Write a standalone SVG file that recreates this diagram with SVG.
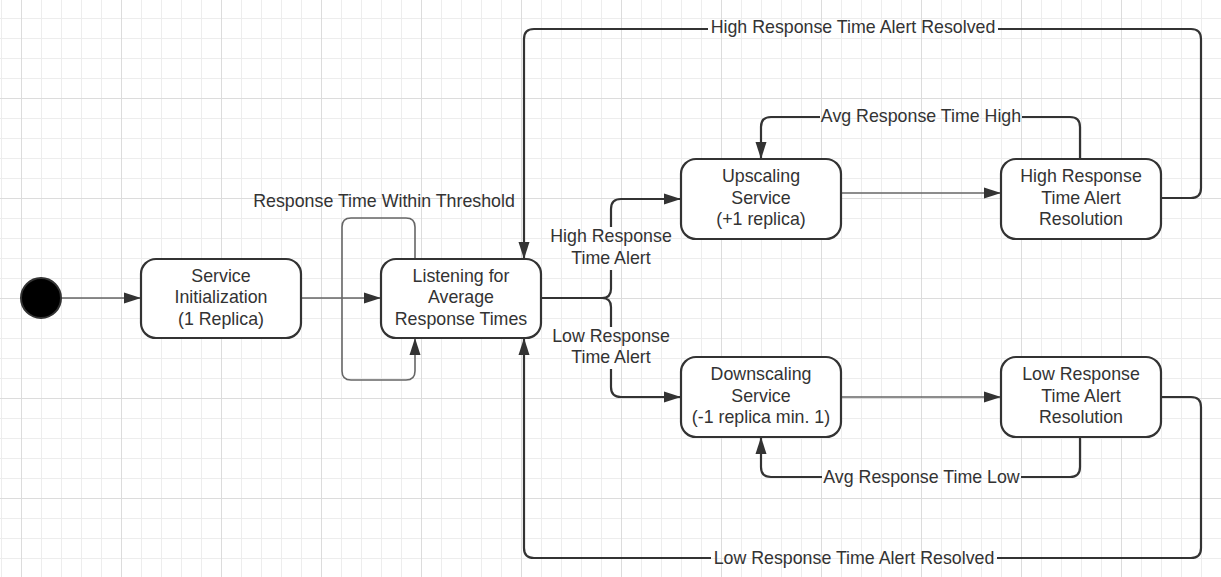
<svg xmlns="http://www.w3.org/2000/svg" width="1221" height="577" viewBox="0 0 1221 577">
<style>
.node rect{fill:#fff;stroke:#333;stroke-width:2.2}
text{font-family:"Liberation Sans",Arial,sans-serif;font-size:17.8px;fill:#333;text-anchor:middle}
.thick{fill:none;stroke:#333;stroke-width:2.2}
.thin{fill:none;stroke:#666;stroke-width:1.6}
.arr{marker-end:url(#ah)}
</style>
<defs>
<pattern id="grid" patternUnits="userSpaceOnUse" x="21" y="-2" width="100" height="100">
<path d="M20.5,0V100M40.5,0V100M60.5,0V100M80.5,0V100M0,20.5H100M0,40.5H100M0,60.5H100M0,80.5H100" stroke="#ededed" stroke-width="1" fill="none"/>
<path d="M0.5,0V100M0,0.5H100" stroke="#dcdcdc" stroke-width="1" fill="none"/>
</pattern>
<marker id="ah" markerUnits="userSpaceOnUse" markerWidth="18" markerHeight="12" refX="17" refY="6" orient="auto">
<path d="M0,0.5L17,6L0,11.5z" fill="#333"/>
</marker>
</defs>
<rect width="1221" height="577" fill="#fff"/>
<rect width="1221" height="577" fill="url(#grid)"/>

<g id="connectors">
<path class="thin arr" d="M61,298H141"/>
<path class="thin arr" d="M301,298H381"/>
<path class="thin arr" d="M415,259V227Q415,218 406,218H351Q342,218 342,227V371Q342,380 351,380H406Q415,380 415,371V338"/>
<text x="384" y="207">Response Time Within Threshold</text>

<path class="thick" d="M541,298H602Q611,298 611,289V270"/>
<path class="thick arr" d="M611,227V209Q611,199 621,199H681"/>
<text x="611" y="242">High Response</text>
<text x="611" y="263.5">Time Alert</text>
<path class="thick" d="M602,298Q611,298 611,307V327"/>
<path class="thick arr" d="M611,369V387Q611,397 621,397H681"/>
<text x="611" y="341.5">Low Response</text>
<text x="611" y="362.5">Time Alert</text>

<path class="thin arr" d="M841,193H1001"/>
<path class="thin arr" d="M841,397H1001"/>

<path class="thick" d="M1080,159V127Q1080,117 1070,117H1022"/>
<path class="thick arr" d="M820,117H771Q761,117 761,127V159"/>
<text x="921" y="122">Avg Response Time High</text>

<path class="thick" d="M1080,437V467Q1080,477 1070,477H1021"/>
<path class="thick arr" d="M822,477H771Q761,477 761,467V437"/>
<text x="921.5" y="482.5">Avg Response Time Low</text>

<path class="thick" d="M1161,198H1191Q1201,198 1201,188V39Q1201,29 1191,29H998"/>
<path class="thick arr" d="M708,29H534Q524,29 524,39V259"/>
<text x="853" y="33">High Response Time Alert Resolved</text>

<path class="thick" d="M1161,397H1191Q1201,397 1201,407V548Q1201,558 1191,558H997"/>
<path class="thick arr" d="M711,558H534Q524,558 524,548V338"/>
<text x="854" y="563.5">Low Response Time Alert Resolved</text>
</g>

<g id="start"><circle cx="41" cy="298" r="20" fill="#000" stroke="#333" stroke-width="2"/></g>

<g id="init" class="node">
<rect x="141" y="259" width="160" height="79" rx="15"/>
<text x="221" y="282">Service</text>
<text x="221" y="303.4">Initialization</text>
<text x="221" y="324.8">(1 Replica)</text>
</g>

<g id="listening" class="node">
<rect x="381" y="259" width="160" height="79" rx="15"/>
<text x="461" y="282">Listening for</text>
<text x="461" y="303.4">Average</text>
<text x="461" y="324.8">Response Times</text>
</g>

<g id="upscaling" class="node">
<rect x="681" y="159" width="160" height="80" rx="15"/>
<text x="761" y="182.3">Upscaling</text>
<text x="761" y="203.7">Service</text>
<text x="761" y="225.1">(+1 replica)</text>
</g>

<g id="high-resolution" class="node">
<rect x="1001" y="159" width="160" height="80" rx="15"/>
<text x="1081" y="182.3">High Response</text>
<text x="1081" y="203.7">Time Alert</text>
<text x="1081" y="225.1">Resolution</text>
</g>

<g id="downscaling" class="node">
<rect x="681" y="357" width="160" height="80" rx="15"/>
<text x="761" y="380.3">Downscaling</text>
<text x="761" y="401.7">Service</text>
<text x="761" y="423.1">(-1 replica min. 1)</text>
</g>

<g id="low-resolution" class="node">
<rect x="1001" y="357" width="160" height="80" rx="15"/>
<text x="1081" y="380.3">Low Response</text>
<text x="1081" y="401.7">Time Alert</text>
<text x="1081" y="423.1">Resolution</text>
</g>
</svg>
